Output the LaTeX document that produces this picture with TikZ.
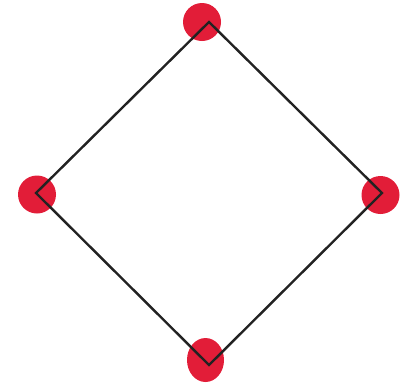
\documentclass[tikz,border=0pt]{standalone}
\usetikzlibrary{shapes.geometric}
\definecolor{dotred}{HTML}{E21D38}
\definecolor{edgegray}{HTML}{222222}
\tikzset{
  dot/.style={fill=dotred, draw=none, circle, minimum size=38pt, inner sep=0pt},
  edge/.style={draw=edgegray, line width=2.4pt, line join=miter}
}
\begin{document}
\begin{tikzpicture}[x=1pt,y=-1pt]
\useasboundingbox (0,0) rectangle (401,384);
\node[dot] (top) at (202,22) {};
\node[dot] (left) at (37,194.5) {};
\node[dot] (right) at (380.5,195) {};
\node[dot, ellipse, minimum width=37pt, minimum height=44pt] (bottom) at (205.5,360) {};
\coordinate (vt) at (209,22);
\coordinate (vl) at (36,193);
\coordinate (vr) at (382,193);
\coordinate (vb) at (209,365);
\draw[edge] (vt) -- (vr) -- (vb) -- (vl) -- cycle;
\end{tikzpicture}
\end{document}
